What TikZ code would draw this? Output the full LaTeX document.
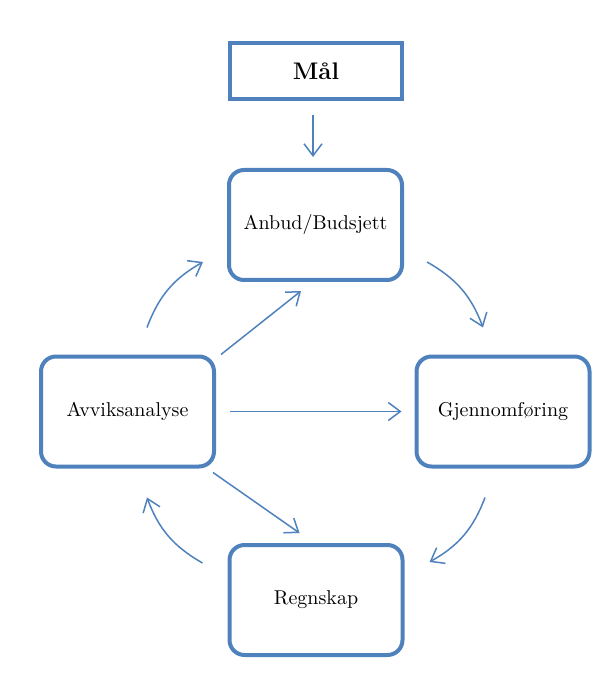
\documentclass[tikz,border=0pt]{standalone}
\usepackage{tikz}
\usetikzlibrary{calc, arrows.meta}
\definecolor{boxblue}{RGB}{79,129,189}
\tikzset{>={Straight Barb[length=6pt,width=9pt]}}

\begin{document}
\begin{tikzpicture}[x=0.5pt, y=-0.5pt,
	stage/.style={draw=boxblue, line width=2pt, rounded corners=7.5pt, minimum width=86.5pt, minimum height=55pt, fill=white},
	goal/.style={draw=boxblue, line width=2pt, minimum width=86pt, minimum height=28pt, font=\large\bfseries},
	flow/.style={->, draw=boxblue, line width=0.75pt}]
						\useasboundingbox (0,0) rectangle (614,673);
						\node [goal] (maal) at (316,71) {Mål};
						\node [stage] (anbud) at (315.5,225) {Anbud/Budsjett};
						\node [stage] (avvik) at (127.5,411.5) {Avviksanalyse};
						\node [stage] (gjennom) at (503,411.5) {Gjennomføring};
						\node [stage] (regnskap) at (316,600) {Regnskap};
						\draw [flow] ($(maal.south)+(-3,14)$) -- ($(anbud.north)+(-2.5,-11)$);
						\draw [flow] ($(avvik.north)+(19.5,-27)$) to [bend left=20] ($(anbud.south west)+(-24,-20)$);
						\draw [flow] ($(avvik.north east)+(5,0)$) -- ($(anbud.south west)+(74,9)$);
						\draw [flow] ($(anbud.south east)+(23,-20)$) to [bend left=20] ($(gjennom.north)+(-20,-27)$);
						\draw [flow] ($(avvik.east)+(14,0)$) -- ($(gjennom.west)+(-13,0)$);
						\draw [flow] ($(gjennom.south)+(-18,29)$) to [bend left=20] ($(regnskap.north east)+(25,19)$);
						\draw [flow] ($(regnskap.north west)+(-25,20)$) to [bend left=20] ($(avvik.south)+(19.5,29)$);
						\draw [flow] ($(avvik.south east)+(-3,4)$) -- ($(regnskap.north west)+(72,-10)$);
					\end{tikzpicture}
\end{document}
